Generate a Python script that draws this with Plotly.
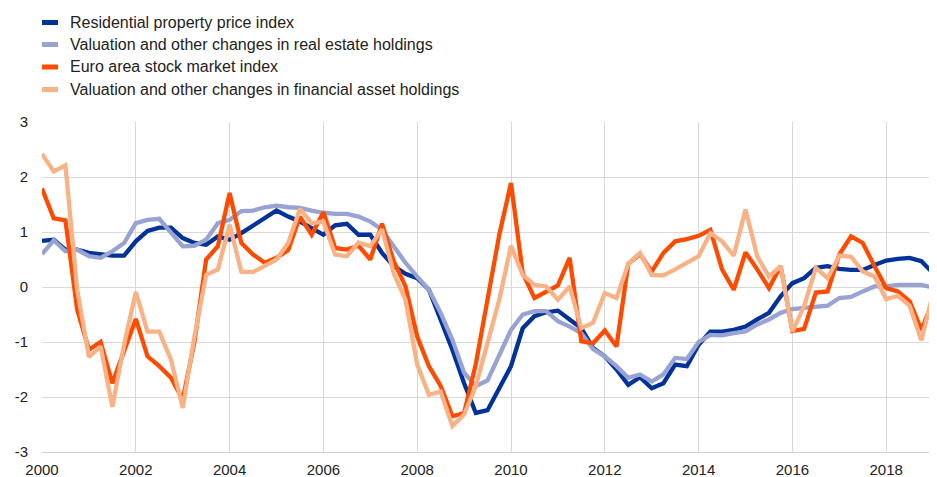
import plotly.graph_objects as go

# quarterly observations, 2000Q1 .. 2019Q1
start_year = 2000
n_quarters = 77

residential = [0.84, 0.86, 0.68, 0.68, 0.62, 0.59, 0.57, 0.57, 0.83, 1.02,
               1.08, 1.08, 0.89, 0.80, 0.77, 0.92, 0.86, 0.98, 1.12, 1.25,
               1.39, 1.28, 1.19, 1.07, 0.95, 1.12, 1.15, 0.95, 0.95, 0.62,
               0.38, 0.24, 0.16, -0.05, -0.59, -1.14, -1.75, -2.29, -2.24, -1.84,
               -1.44, -0.75, -0.53, -0.46, -0.43, -0.59, -0.75, -1.11, -1.26, -1.50,
               -1.78, -1.64, -1.84, -1.75, -1.41, -1.44, -1.05, -0.81, -0.81, -0.78,
               -0.72, -0.59, -0.47, -0.17, 0.07, 0.16, 0.35, 0.38, 0.33, 0.31,
               0.31, 0.40, 0.48, 0.51, 0.53, 0.47, 0.25]

real_estate = [0.60, 0.85, 0.65, 0.68, 0.56, 0.53, 0.65, 0.80, 1.16, 1.22,
               1.24, 1.00, 0.74, 0.75, 0.86, 1.16, 1.22, 1.38, 1.39, 1.45,
               1.48, 1.45, 1.44, 1.39, 1.35, 1.33, 1.33, 1.28, 1.19, 1.04,
               0.74, 0.44, 0.19, -0.05, -0.47, -0.96, -1.56, -1.80, -1.70, -1.26,
               -0.78, -0.50, -0.44, -0.44, -0.62, -0.72, -0.84, -1.13, -1.26, -1.44,
               -1.65, -1.59, -1.72, -1.59, -1.29, -1.31, -1.00, -0.87, -0.88, -0.84,
               -0.81, -0.68, -0.59, -0.47, -0.40, -0.38, -0.36, -0.34, -0.20, -0.18,
               -0.08, 0.01, 0.01, 0.04, 0.04, 0.04, -0.01]

stock_market = [1.79, 1.25, 1.21, -0.41, -1.14, -1.00, -1.75, -1.15, -0.58, -1.26,
                -1.44, -1.65, -2.05, -1.00, 0.50, 0.74, 1.71, 0.80, 0.59, 0.44,
                0.53, 0.67, 1.28, 0.95, 1.36, 0.71, 0.68, 0.75, 0.50, 1.15,
                0.47, 0.01, -0.90, -1.44, -1.80, -2.35, -2.29, -1.40, -0.25, 0.95,
                1.89, 0.25, -0.20, -0.08, 0.03, 0.53, -0.99, -1.02, -0.79, -1.08,
                0.42, 0.60, 0.28, 0.62, 0.83, 0.87, 0.93, 1.04, 0.32, -0.05,
                0.63, 0.32, -0.02, 0.38, -0.80, -0.76, -0.10, -0.08, 0.59, 0.92,
                0.80, 0.38, -0.02, -0.08, -0.26, -0.78, -0.25]

financial_assets = [2.42, 2.10, 2.21, -0.05, -1.27, -1.08, -2.18, -1.05, -0.09, -0.81,
                    -0.81, -1.32, -2.20, -0.90, 0.22, 0.32, 1.13, 0.28, 0.27, 0.38,
                    0.50, 0.80, 1.42, 1.16, 1.19, 0.59, 0.56, 0.81, 0.74, 1.05,
                    0.25, -0.23, -1.41, -1.96, -1.90, -2.53, -2.32, -1.80, -1.05, -0.23,
                    0.75, 0.22, 0.04, 0.01, -0.23, 0.01, -0.75, -0.65, -0.11, -0.20,
                    0.42, 0.62, 0.22, 0.21, 0.32, 0.44, 0.56, 0.98, 0.83, 0.57,
                    1.41, 0.56, 0.19, 0.38, -0.81, -0.35, 0.35, 0.16, 0.57, 0.55,
                    0.28, 0.19, -0.22, -0.16, -0.34, -0.97, -0.10]

series_names = ["Residential property price index",
                "Valuation and other changes in real estate holdings",
                "Euro area stock market index",
                "Valuation and other changes in financial asset holdings"]
series_colors = ["#003299", "#98A2D3", "#FF4B00", "#F8B285"]

x_tick_values = [2000, 2002, 2004, 2006, 2008, 2010, 2012, 2014, 2016, 2018]
x_tick_labels = ["2000", "2002", "2004", "2006", "2008", "2010", "2012", "2014", "2016", "2018"]
y_tick_values = [-3, -2, -1, 0, 1, 2, 3]
y_tick_labels = ["-3", "-2", "-1", "0", "1", "2", "3"]

x_dates = [start_year + q / 4 for q in range(n_quarters)]
all_series = [residential, real_estate, stock_market, financial_assets]

# the page body has an 8px margin; size the figure so it fills the window
OFF = 8
WIN_W, WIN_H = 937, 477
W, H = WIN_W - OFF, WIN_H - OFF
# plot area in window pixels: x 42..937, y 122..452
ML, MT = 42 - OFF, 122 - OFF
MR, MB = 0, WIN_H - 452
PW, PH = W - ML - MR, H - MT - MB

def px_x(wx):
    return (wx - OFF - ML) / PW

def px_y(wy):
    return (H - MB - (wy - OFF)) / PH

fig = go.Figure()
for name, color, values in zip(series_names, series_colors, all_series):
    fig.add_trace(go.Scatter(x=x_dates, y=values, mode="lines", name=name,
                             line=dict(color=color, width=4.3), showlegend=False))

font_family = "Liberation Sans, Arial, sans-serif"
row_y = [22.5, 44.5, 67, 89.5]
for name, color, wy in zip(series_names, series_colors, row_y):
    fig.add_shape(type="rect", xref="paper", yref="paper",
                  x0=px_x(42), x1=px_x(58), y0=px_y(wy + 2.5), y1=px_y(wy - 2.5),
                  fillcolor=color, line=dict(width=0))
    fig.add_annotation(xref="paper", yref="paper", x=px_x(68), y=px_y(wy),
                       xanchor="left", yanchor="middle", text=name, showarrow=False,
                       font=dict(family=font_family, size=16, color="#222222"))

fig.update_layout(
    width=W, height=H,
    margin=dict(l=ML, r=MR, t=MT, b=MB, autoexpand=False),
    plot_bgcolor="white", paper_bgcolor="white",
    font=dict(family=font_family, size=15, color="#222222"),
    showlegend=False,
)
fig.update_xaxes(range=[2000, 2019.083], tickmode="array", tickvals=x_tick_values,
                 ticktext=x_tick_labels, showgrid=True, gridcolor="#D9D9D9", gridwidth=1,
                 zeroline=False, showline=True, linecolor="#D0D0D0", linewidth=1,
                 ticks="", ticklabelstandoff=4, automargin=False,
                 tickfont=dict(size=15))
fig.update_yaxes(range=[-3, 3], tickmode="array", tickvals=y_tick_values,
                 ticktext=y_tick_labels, showgrid=True, gridcolor="#D9D9D9", gridwidth=1,
                 zeroline=False, showline=False, ticks="", ticklabelstandoff=13,
                 automargin=False, tickfont=dict(size=15))

fig.write_html("out.html")
